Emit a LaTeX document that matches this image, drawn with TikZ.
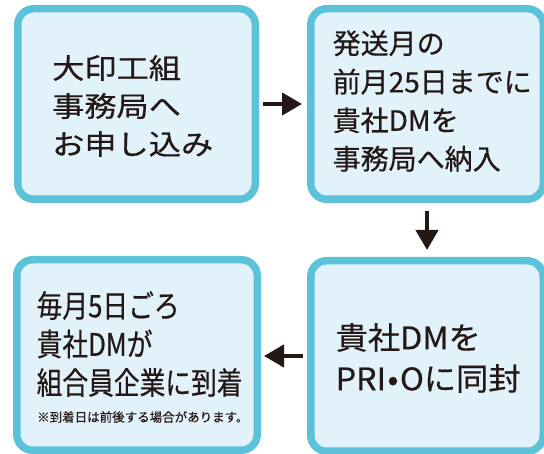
\documentclass[tikz,border=0pt]{standalone}
\usepackage{fontspec}
\usetikzlibrary{arrows.meta}
\newfontfamily\jpA[FakeStretch=1.15,FakeBold=0.5]{Noto Sans CJK JP}
\newfontfamily\jpB[FakeBold=0.5]{Noto Sans CJK JP}
\newfontfamily\jpC[FakeStretch=0.83,FakeBold=0.5]{Noto Sans CJK JP}
\newfontfamily\jpD[FakeStretch=1.04,FakeBold=0.5]{Noto Sans CJK JP}
\newfontfamily\jpN[FakeBold=0.3]{Noto Sans CJK JP}
\definecolor{bordercyan}{HTML}{5BC2DA}
\definecolor{boxfill}{HTML}{E1F2FB}
\definecolor{ink}{HTML}{231815}
\begin{document}
\begin{tikzpicture}[x=1pt,y=-1pt,
  box/.style={draw=bordercyan, fill=boxfill, line width=7.5pt, rounded corners=16pt, inner sep=0pt},
  txt/.style={text=ink, align=left, anchor=west, inner sep=0pt},
  flow/.style={draw=ink, line width=4.3pt, -{Triangle[length=20pt,width=22pt]}}]
\useasboundingbox (0,0) rectangle (544,454);
\clip (0,0) rectangle (544,454);
\fill[white] (0,0) rectangle (544,454);
% boxes
\node[box, minimum width=237.5pt, minimum height=190.5pt] (b1) at (136.5,104) {};
\node[box, minimum width=232.5pt, minimum height=190.5pt] (b2) at (427,104) {};
\node[box, minimum width=240.5pt, minimum height=190.5pt] (b3) at (137,355) {};
\node[box, minimum width=232.5pt, minimum height=190.5pt] (b4) at (427,356) {};
% texts
\node[txt, font=\jpA\fontsize{28pt}{38pt}\selectfont] (t1) at (52,106) {大印工組\\事務局へ\\お申し込み};
\node[txt, font=\jpB\fontsize{28pt}{38.5pt}\selectfont] (t2) at (332.5,101) {発送月の\\前月25日までに\\貴社DMを\\事務局へ納入};
\node[txt, font=\jpC\fontsize{31pt}{38.5pt}\selectfont] (t3) at (36.5,344) {毎月5日ごろ\\貴社DMが\\組合員企業に到着};
\node[txt, font=\jpN\fontsize{12.5pt}{15pt}\selectfont] (t3note) at (37,417) {※到着日は前後する場合があります。};
\node[txt, font=\jpD\fontsize{31pt}{41pt}\selectfont] (t4) at (335.5,358) {貴社DMを\\PRI\kern1.5pt•\kern1.5pt Oに同封};
% connectors
\draw[flow, shorten <=4pt, shorten >=5pt] (b1.east) -- (b2.west);
\draw[flow, shorten <=8pt, shorten >=7pt] (b2.south) -- (b4.north);
\draw[flow, shorten <=4pt, shorten >=3pt] (b4.west) -- (b4.west -| b3.east);
\end{tikzpicture}
\end{document}
